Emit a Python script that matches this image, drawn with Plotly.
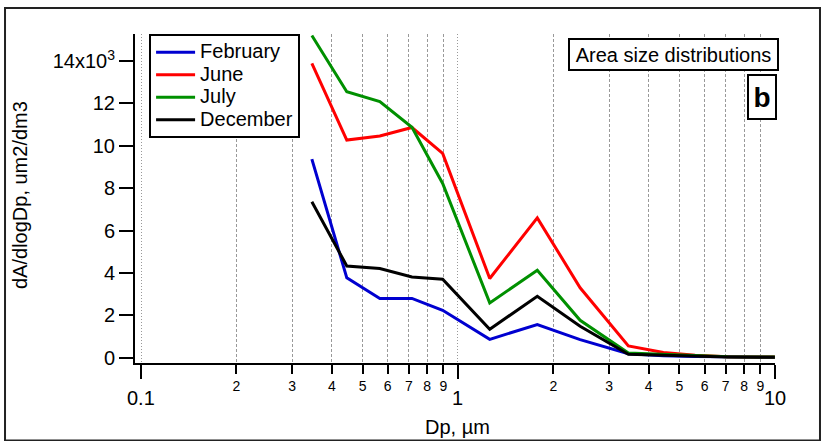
import numpy as np
import plotly.graph_objects as go

# Particle diameter bins (µm)
dp = [0.346, 0.446, 0.567, 0.716, 0.895, 1.26, 1.78, 2.43, 3.45, 4.45, 5.6, 7.1, 8.9, 10.0]

# dA/dlogDp, um2/dm3
february = [9370, 3770, 2800, 2800, 2240, 870, 1570, 860, 190, 100, 60, 40, 30, 30]
june = [13890, 10270, 10460, 10860, 9640, 3740, 6600, 3300, 560, 250, 120, 50, 40, 40]
july = [15200, 12550, 12080, 10870, 8220, 2590, 4130, 1770, 230, 160, 80, 50, 40, 40]
december = [7360, 4330, 4210, 3810, 3710, 1350, 2900, 1490, 170, 120, 70, 40, 30, 30]

series_names = ["February", "June", "July", "December"]
series_values = [february, june, july, december]
series_colors = ["#0000d0", "#ff0000", "#009000", "#000000"]

y_ticks = [0, 2000, 4000, 6000, 8000, 10000, 12000, 14000]
y_ticktext = ["0", "2", "4", "6", "8", "10", "12", "14x10<sup>3</sup>"]

decades = [0.1, 1, 10]
decade_labels = ["0.1", "1", "10"]
minor_vals = [0.2, 0.3, 0.4, 0.5, 0.6, 0.7, 0.8, 0.9, 2, 3, 4, 5, 6, 7, 8, 9]
minor_text = [str(v)[-1] if v < 1 else str(v) for v in minor_vals]

FONT = "Arial, Liberation Sans, sans-serif"

fig = go.Figure()
for name, vals, col in zip(series_names, series_values, series_colors):
    # legend rows are packed tighter than the text size: the row height
    # follows legend.font, the glyphs follow the span style
    label = f"<span style='font-size:20px'>{name}</span>"
    fig.add_trace(go.Scatter(x=dp, y=vals, mode="lines", name=label,
                             line=dict(color=col, width=3)))

fig.update_layout(
    width=821, height=441,
    margin=dict(l=135, r=46, t=34, b=78),
    paper_bgcolor="white", plot_bgcolor="white",
    font=dict(family=FONT, color="black"),
    showlegend=True,
    legend=dict(x=0.022, y=1.0, xanchor="left", yanchor="top",
                bordercolor="black", borderwidth=2, bgcolor="white",
                font=dict(size=15, family=FONT), itemwidth=39,
                tracegroupgap=0),
)

fig.update_xaxes(
    type="log", range=[np.log10(0.1) - 0.019, 1.0005],
    showline=True, linecolor="black", linewidth=2,
    tickmode="array", tickvals=minor_vals, ticktext=minor_text,
    ticks="outside", ticklen=9, tickwidth=2, tickcolor="black",
    tickfont=dict(size=14, family=FONT),
    showgrid=True, gridcolor="#999999", gridwidth=1, griddash="3px,2px",
    minor=dict(tickmode="array", tickvals=decades, ticks="outside",
               ticklen=14, tickwidth=2, tickcolor="black",
               showgrid=True, gridcolor="#999999", gridwidth=1,
               griddash="1px,2px"),
    zeroline=False,
)

fig.update_yaxes(
    range=[-245, 15270],
    showline=True, linecolor="black", linewidth=2,
    tickmode="array", tickvals=y_ticks, ticktext=y_ticktext,
    ticks="outside", ticklen=14, tickwidth=2, tickcolor="black",
    tickfont=dict(size=20, family=FONT),
    showgrid=False, zeroline=False,
)

annotations = []
for v, t in zip(decades, decade_labels):
    annotations.append(dict(x=np.log10(v), y=-0.107, xref="x", yref="paper",
                            text=t, showarrow=False, xanchor="center",
                            yanchor="middle", font=dict(size=20, family=FONT)))

annotations += [
    dict(x=0.504, y=-0.196, xref="paper", yref="paper", text="Dp, µm",
         showarrow=False, xanchor="center", yanchor="middle",
         font=dict(size=20, family=FONT)),
    dict(x=-0.18, y=0.51, xref="paper", yref="paper",
         text="dA/dlogDp, um2/dm3", textangle=-90, showarrow=False,
         xanchor="center", yanchor="middle", font=dict(size=20, family=FONT)),
    dict(x=0.8414, y=0.9377, xref="paper", yref="paper",
         text="Area size distributions", showarrow=False,
         xanchor="center", yanchor="middle", width=205, height=27,
         bordercolor="black", borderwidth=2, borderpad=1, bgcolor="white",
         font=dict(size=20, family=FONT)),
    dict(x=0.9797, y=0.8083, xref="paper", yref="paper",
         text="<b>b</b>", showarrow=False, xanchor="center", yanchor="middle",
         width=24, height=40, bordercolor="black", borderwidth=2, borderpad=1,
         bgcolor="white", font=dict(size=28, family=FONT)),
]
fig.update_layout(annotations=annotations)

# Outer frame around the whole figure
fig.add_shape(type="rect", xref="paper", yref="paper",
              x0=-0.2031, x1=1.0703, y0=-0.2352, y1=1.0791,
              line=dict(color="#222222", width=2), fillcolor="rgba(0,0,0,0)")

fig.write_html("out.html")
